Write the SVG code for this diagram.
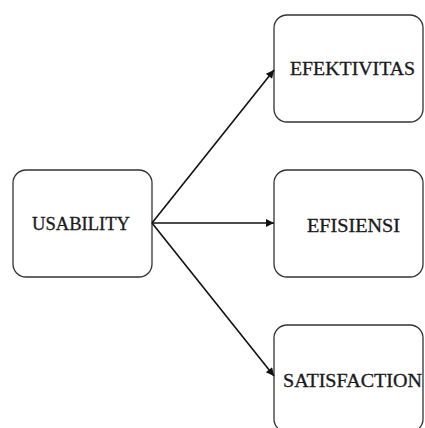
<svg xmlns="http://www.w3.org/2000/svg" width="425" height="428" viewBox="0 0 425 428">
<defs>
<marker id="ah" viewBox="0 0 10 10" refX="10" refY="5" markerWidth="10" markerHeight="8" markerUnits="userSpaceOnUse" orient="auto">
<path d="M0,0 L10,5 L0,10 Z" fill="#111"/>
</marker>
</defs>
<style>
.box{fill:#fff;stroke:#333;stroke-width:1.3}
.lbl{font-family:"Liberation Serif","Times New Roman",serif;font-size:18px;fill:#1a1a1a;stroke:#1a1a1a;stroke-width:0.3}
.edge{stroke:#111;stroke-width:1.6;fill:none;marker-end:url(#ah)}
</style>
<rect width="425" height="428" fill="#fff"/>
<g id="usability">
<rect class="box" x="13" y="170" width="139" height="107" rx="13"/>
<text class="lbl" x="32" y="229.5" textLength="98" lengthAdjust="spacingAndGlyphs">USABILITY</text>
</g>
<g id="efektivitas">
<rect class="box" x="274" y="15" width="149" height="107" rx="13"/>
<text class="lbl" x="290" y="74.5" textLength="125" lengthAdjust="spacingAndGlyphs">EFEKTIVITAS</text>
</g>
<g id="efisiensi">
<rect class="box" x="274" y="170" width="149" height="107" rx="13"/>
<text class="lbl" x="307" y="231.5" textLength="93" lengthAdjust="spacingAndGlyphs">EFISIENSI</text>
</g>
<g id="satisfaction">
<rect class="box" x="274" y="325" width="149" height="107" rx="13"/>
<text class="lbl" x="283" y="386.5" textLength="139" lengthAdjust="spacingAndGlyphs">SATISFACTION</text>
</g>
<g id="connectors">
<line class="edge" x1="152" y1="223" x2="274" y2="70"/>
<line class="edge" x1="152" y1="223" x2="274" y2="223"/>
<line class="edge" x1="152" y1="223" x2="274" y2="376"/>
</g>
</svg>
